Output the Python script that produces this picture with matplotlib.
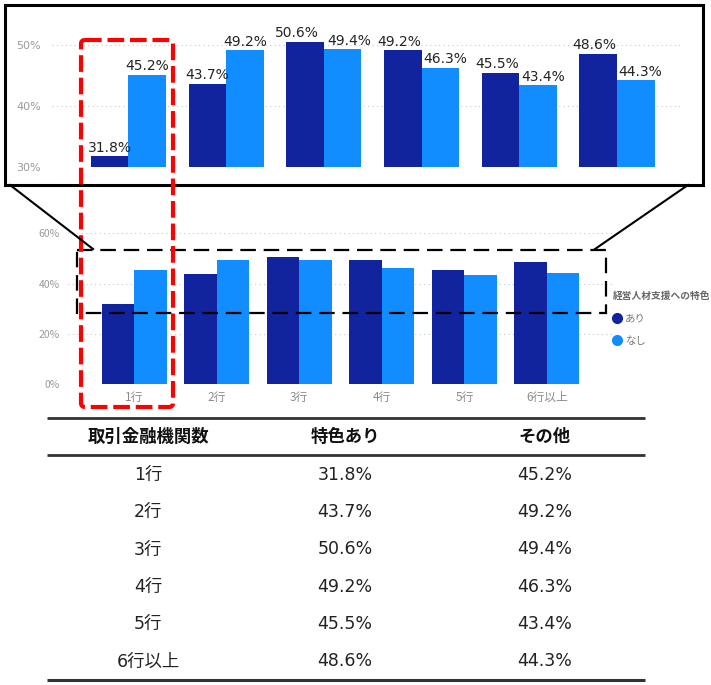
import matplotlib.pyplot as plt
from matplotlib.patches import Rectangle, FancyBboxPatch
from matplotlib.lines import Line2D
from matplotlib.transforms import Affine2D

categories = ["1行", "2行", "3行", "4行", "5行", "6行以上"]
tokushoku_ari = [31.8, 43.7, 50.6, 49.2, 45.5, 48.6]
sonota = [45.2, 49.2, 49.4, 46.3, 43.4, 44.3]
series_names = ["あり", "なし"]
legend_title = "経営人材支援への特色"
table_header = ["取引金融機関数", "特色あり", "その他"]
zoom_ticks = [30, 40, 50]
full_ticks = [0, 20, 40, 60]

DARK = "#12239E"
LIGHT = "#118DFF"
GRAY = "#999999"

plt.rcParams['font.family'] = ['DejaVu Sans', 'Noto Sans CJK JP']

W, H = 711, 685
fig = plt.figure(figsize=(W / 100, H / 100), dpi=100)
# pixel coordinates (origin top-left) -> figure
px = Affine2D().scale(1 / W, -1 / H).translate(0, 1) + fig.transFigure


def add_axes_px(x0, y0, x1, y1):
    return fig.add_axes([x0 / W, 1 - y1 / H, (x1 - x0) / W, (y1 - y0) / H])


def clean(ax):
    for s in ax.spines.values():
        s.set_visible(False)
    ax.grid(axis='y', ls=(0, (1, 3)), color='#c8c8c8', lw=0.8)
    ax.set_axisbelow(True)


x = list(range(len(categories)))

# zoomed chart
ax1 = add_axes_px(52, 10, 680, 167)
w1 = 0.384
b1 = ax1.bar([i - w1 / 2 for i in x], tokushoku_ari, w1, color=DARK)
b2 = ax1.bar([i + w1 / 2 for i in x], sonota, w1, color=LIGHT)
lab1 = ax1.bar_label(b1, labels=[f"{v}%" for v in tokushoku_ari],
                     padding=1, fontsize=10, color="#252423")
lab2 = ax1.bar_label(b2, labels=[f"{v}%" for v in sonota],
                     padding=1, fontsize=10, color="#252423")
# push neighbouring labels apart when they sit at similar heights
for a, b, t1, t2 in zip(tokushoku_ari, sonota, lab1, lab2):
    gap = abs(a - b)
    if gap < 1.5:
        t1.xyann = (-6, 1)
        t2.xyann = (5, 1)
    elif gap < 5:
        t1.xyann = (-2.5, 1)
        t2.xyann = (3.5, 1)
ax1.set_xlim(-0.783, 5.645)
ax1.set_ylim(30, 55.8)
ax1.set_yticks(zoom_ticks, [f"{t}%" for t in zoom_ticks])
ax1.set_xticks([])
ax1.tick_params(axis='y', length=0, pad=8, labelsize=8, labelcolor=GRAY)
clean(ax1)

# full chart
ax2 = add_axes_px(68, 225, 613, 384)
w2 = 0.393
ax2.bar([i - w2 / 2 for i in x], tokushoku_ari, w2, color=DARK)
ax2.bar([i + w2 / 2 for i in x], sonota, w2, color=LIGHT)
ax2.set_xlim(-0.8, 5.8)
ax2.set_ylim(0, 63.3)
ax2.set_yticks(full_ticks, [f"{t}%" for t in full_ticks])
ax2.set_xticks(x, categories)
ax2.tick_params(axis='y', length=0, pad=6, labelsize=7.5, labelcolor=GRAY)
ax2.tick_params(axis='x', length=0, pad=5, labelsize=8.5, labelcolor="#8c8c8c")
for t in ax2.get_xticklabels() + ax2.get_yticklabels():
    t.set_family(['Noto Sans CJK JP'])
clean(ax2)

handles = [Line2D([], [], marker='o', ls='', color=c, markersize=7)
           for c in (DARK, LIGHT)]
leg = ax2.legend(handles, series_names, title=legend_title, loc='upper left',
                 bbox_to_anchor=(613, 291), bbox_transform=px, frameon=False,
                 borderpad=0, borderaxespad=0, handlelength=0.7,
                 handletextpad=0.45, labelspacing=1.2,
                 prop={'family': 'Noto Sans CJK JP', 'size': 7.5},
                 title_fontproperties={'family': 'Noto Sans CJK JP',
                                       'size': 7, 'weight': 'bold'})
leg._legend_box.align = "left"
leg.get_title().set_color("#666666")
for t in leg.get_texts():
    t.set_color("#777777")

# callout box, connectors, highlight frames
fig.add_artist(Rectangle((5, 5), 698, 180, transform=px, fill=False,
                         ec='black', lw=2.2))
fig.add_artist(Line2D([10, 93], [185, 249], transform=px, color='black', lw=1.5))
fig.add_artist(Line2D([688, 595], [185, 249], transform=px, color='black', lw=1.5))
fig.add_artist(Rectangle((77, 250), 529, 63, transform=px, fill=False,
                         ec='black', lw=1.6, ls=(0, (7, 3.5))))
fig.add_artist(FancyBboxPatch((81, 40), 92, 367,
                              boxstyle="round,pad=0,rounding_size=4",
                              transform=px, fill=False, ec='#ff0000',
                              lw=3, ls=(0, (4, 1.4))))

# table
axt = add_axes_px(0, 410, W, H)
axt.set_xlim(0, W)
axt.set_ylim(H, 410)
axt.axis('off')
col_x = [148, 345, 545]
axt.hlines([417.5, 455], 47, 645, color='#333333', lw=2)
axt.hlines(680, 47, 645, color='#333333', lw=2.2)
for cx, h in zip(col_x, table_header):
    axt.text(cx, 437, h, ha='center', va='center', fontsize=12.5,
             family=['Noto Sans CJK JP'], weight='bold', color='#111111')
row_y = [475, 512, 549.5, 587, 624, 661.5]
for ry, cat, a, b in zip(row_y, categories, tokushoku_ari, sonota):
    for cx, s in zip(col_x, [cat, f"{a}%", f"{b}%"]):
        axt.text(cx, ry, s, ha='center', va='center', fontsize=12.5,
                 color='#222222')

fig.savefig("out.png", dpi=100)
